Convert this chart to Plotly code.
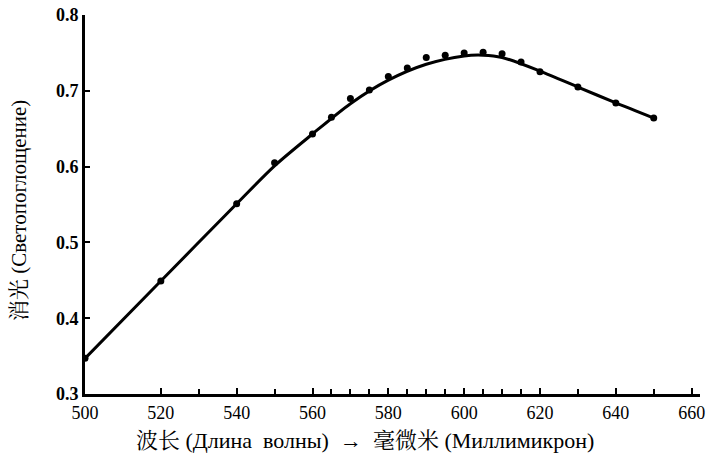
import plotly.graph_objects as go

# measured points
wavelength = [500, 520, 540, 550, 560, 565, 570, 575, 580, 585, 590, 595, 600, 605, 610, 615, 620, 630, 640, 650]
extinction = [0.347, 0.449, 0.551, 0.605, 0.643, 0.665, 0.690, 0.701, 0.719, 0.730, 0.744, 0.747, 0.750, 0.751, 0.749, 0.738, 0.725, 0.705, 0.684, 0.664]

# smooth fitted curve as drawn
curve_x = [500, 520, 540, 550, 560, 570, 580, 590, 600, 605, 610, 620, 630, 640, 650]
curve_y = [0.347, 0.449, 0.551, 0.601, 0.643, 0.683, 0.714, 0.735, 0.746, 0.747, 0.744, 0.726, 0.705, 0.684, 0.664]

x_major = [500, 520, 540, 560, 580, 600, 620, 640, 660]
x_minor = [530, 550, 565, 570, 575, 585, 590, 595, 605, 610, 615, 630, 650]
y_ticks = [0.3, 0.4, 0.5, 0.6, 0.7, 0.8]

x_title = "波长\u00a0(Длина\u00a0\u00a0волны)\u00a0\u00a0→\u00a0\u00a0毫微米\u00a0(Миллимикрон)"
y_title = "消光\u00a0(Светопоглощение)"

SERIF = "Times New Roman, Liberation Serif, DejaVu Serif, serif"
TITLE_FONT = "Liberation Serif, Noto Serif CJK SC, Noto Sans CJK SC, serif"

fig = go.Figure()
fig.add_trace(go.Scatter(x=curve_x, y=curve_y, mode="lines",
                         line=dict(color="black", width=3, shape="spline", smoothing=0.8),
                         showlegend=False, hoverinfo="skip"))
fig.add_trace(go.Scatter(x=wavelength, y=extinction, mode="markers",
                         marker=dict(color="black", size=7),
                         showlegend=False))

fig.update_layout(
    width=706, height=466,
    margin=dict(l=85, r=6, t=15, b=72),
    plot_bgcolor="white", paper_bgcolor="white",
    font=dict(family=SERIF, color="black", size=16),
)
fig.update_xaxes(
    range=[500, 662.2], tickvals=x_major, ticktext=[str(v) for v in x_major],
    showgrid=False, zeroline=False, automargin=False,
    showline=True, linecolor="black", linewidth=3,
    ticks="inside", ticklen=6, tickwidth=2, tickcolor="black",
    minor=dict(tickvals=x_minor, ticks="inside", ticklen=5, tickwidth=2, tickcolor="black", showgrid=False),
    tickfont=dict(family=SERIF, size=18),
    ticklabeloverflow="allow",
)
fig.update_yaxes(
    range=[0.3, 0.8], tickvals=y_ticks, ticktext=["0.3", "0.4", "0.5", "0.6", "0.7", "0.8"],
    showgrid=False, zeroline=False, automargin=False,
    showline=True, linecolor="black", linewidth=3,
    ticks="inside", ticklen=5, tickwidth=2, tickcolor="black",
    tickfont=dict(family=SERIF, size=18, weight="bold"),
)
fig.add_annotation(text=x_title, xref="paper", yref="paper",
                   x=(365 - 85) / 615, y=-(440 - 394) / 379,
                   xanchor="center", yanchor="middle", showarrow=False,
                   font=dict(family=TITLE_FONT, size=22))
fig.add_annotation(text=y_title, xref="paper", yref="paper",
                   x=-(85 - 19) / 615, y=(394 - 211) / 379, textangle=-90,
                   xanchor="center", yanchor="middle", showarrow=False,
                   font=dict(family=TITLE_FONT, size=21))

fig.write_html("out.html")
